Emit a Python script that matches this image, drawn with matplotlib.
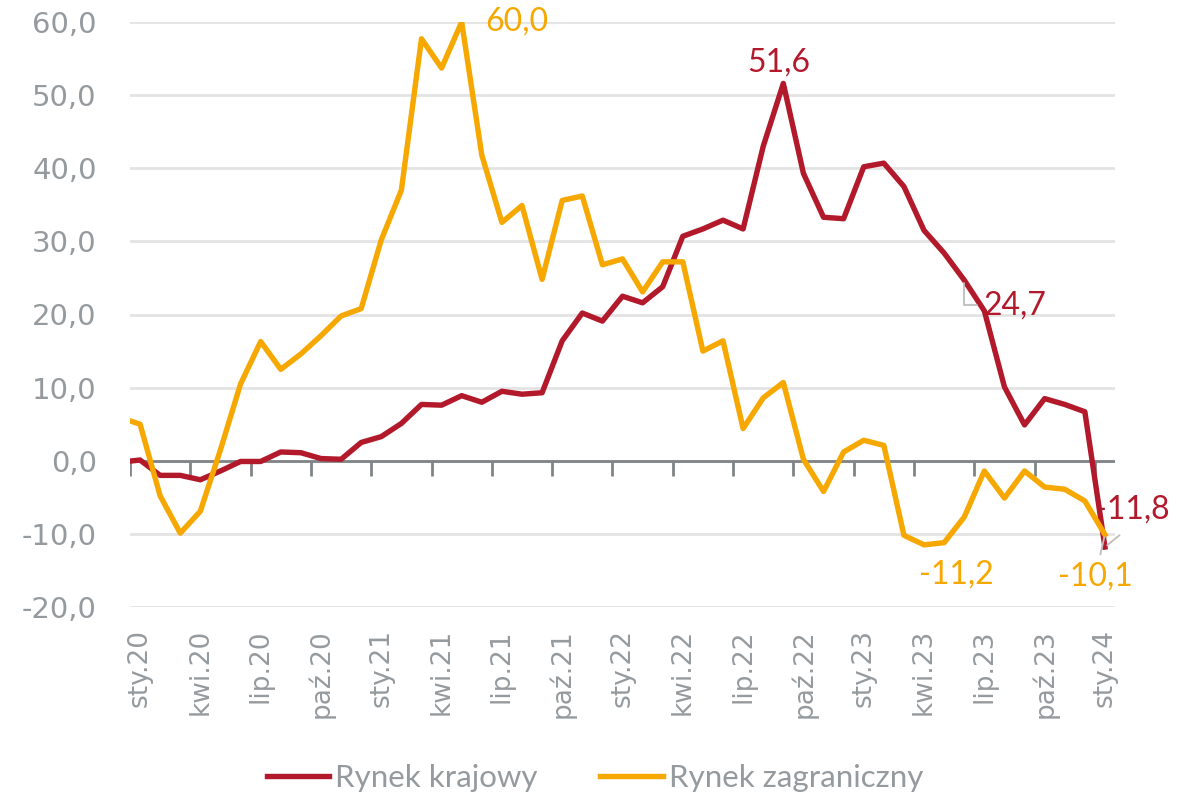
import numpy as np
import matplotlib.pyplot as plt

# Monthly series, Dec 2019 .. Jan 2024 (the first month sits just left of the axis)
krajowy = [-0.2, 0.1, -2.0, -2.0, -2.6, -1.4, -0.1, -0.1, 1.2, 1.1, 0.3, 0.2, 2.5,
           3.3, 5.1, 7.7, 7.6, 8.9, 8.0, 9.5, 9.1, 9.3, 16.4, 20.2, 19.1, 22.5, 21.6,
           23.8, 30.7, 31.7, 32.9, 31.7, 43.0, 51.6, 39.3, 33.3, 33.1, 40.2, 40.7,
           37.5, 31.5, 28.4, 24.7, 20.5, 10.1, 4.9, 8.5, 7.7, 6.7, -11.8]
zagraniczny = [5.9, 5.0, -4.8, -9.9, -6.9, 1.5, 10.5, 16.3, 12.5, 14.6, 17.1, 19.8,
               20.8, 30.2, 37.0, 57.7, 53.7, 60.0, 41.8, 32.6, 34.9, 24.8, 35.6, 36.2,
               26.8, 27.6, 23.1, 27.2, 27.2, 15.0, 16.4, 4.4, 8.6, 10.7, 0.2, -4.2, 1.2,
               2.8, 2.1, -10.2, -11.5, -11.2, -7.7, -1.4, -5.1, -1.4, -3.6, -3.9, -5.5,
               -10.1]
tick_labels = ['sty.20', 'kwi.20', 'lip.20', 'paź.20', 'sty.21', 'kwi.21', 'lip.21',
               'paź.21', 'sty.22', 'kwi.22', 'lip.22', 'paź.22', 'sty.23', 'kwi.23',
               'lip.23', 'paź.23', 'sty.24']
series_names = ['Rynek krajowy', 'Rynek zagraniczny']

RED = '#B21A2C'
ORANGE = '#F6A800'
GRAY = '#959A9E'
AXIS = '#7F8487'

x = np.arange(len(krajowy)) - 1  # 0 = sty.20

fig = plt.figure(figsize=(11.97, 7.98), dpi=100)
ax = fig.add_axes([130 / 1197, 1 - 607 / 798, 985 / 1197, 585 / 798])

ax.set_ylim(-20, 60)
ax.set_xlim(-0.5, 48.5)
ax.set_yticks(np.arange(-20, 61, 10))
ax.set_yticklabels([f'{v:.1f}'.replace('.', ',') for v in np.arange(-20, 61, 10)])
ax.grid(axis='y', color='#E3E3E3', linewidth=2)
ax.set_axisbelow(True)
for s in ax.spines.values():
    s.set_visible(False)

ax.set_xticks(np.arange(0, 49, 3))
ax.set_xticklabels(tick_labels, rotation=90, va='top', ha='center')
ax.tick_params(axis='x', length=0, pad=16, labelsize=19, labelcolor=GRAY)
ax.tick_params(axis='y', length=0, pad=24, labelsize=21, labelcolor=GRAY)

# zero line with tick marks between categories
ax.axhline(0, color=AXIS, linewidth=2, zorder=1)
tick_pos = np.arange(-0.5, 48, 3)
ax.plot(tick_pos, np.zeros_like(tick_pos), linestyle='none', marker=3,
        markersize=11, markeredgewidth=2, color=AXIS, zorder=1)

ax.plot(x, krajowy, color=RED, linewidth=3.9, label=series_names[0], zorder=3)
ax.plot(x, zagraniczny, color=ORANGE, linewidth=3.9, label=series_names[1], zorder=3)

lab_font = dict(family=['Lato', 'DejaVu Sans'], fontsize=23)
lead = dict(arrowstyle='-', color='#BDBDBD', linewidth=1.3, shrinkA=3, shrinkB=2)


def fmt(v):
    return f'{v:.1f}'.replace('.', ',')


def label(series, i, dx, dy, color, ha='center', arrow=None):
    v = series[i + 1]
    ax.annotate(fmt(v), (i, v), xytext=(dx, dy), textcoords='offset points',
                ha=ha, va='center', color=color, arrowprops=arrow, zorder=4, **lab_font)


label(zagraniczny, 16, 17, 0, ORANGE, ha='left')
label(krajowy, 32, -3, 15, RED)
label(krajowy, 41, 14, -18, RED, ha='left',
      arrow=dict(lead, connectionstyle='angle,angleA=0,angleB=90,rad=0'))
label(krajowy, 48, 20, 27, RED, arrow=dict(lead, relpos=(0.5, 0), shrinkA=9))
label(zagraniczny, 48, -7, -30, ORANGE, arrow=lead)
label(zagraniczny, 40, 9, -23, ORANGE)

fig.legend(loc='center', bbox_to_anchor=(595 / 1197, 1 - 778 / 798), ncol=2,
           frameon=False, handlelength=2.0, handletextpad=0.2, columnspacing=2.0,
           prop=dict(family=['Lato', 'DejaVu Sans'], size=22.5), labelcolor=GRAY)

fig.savefig('out.png', dpi=100)
